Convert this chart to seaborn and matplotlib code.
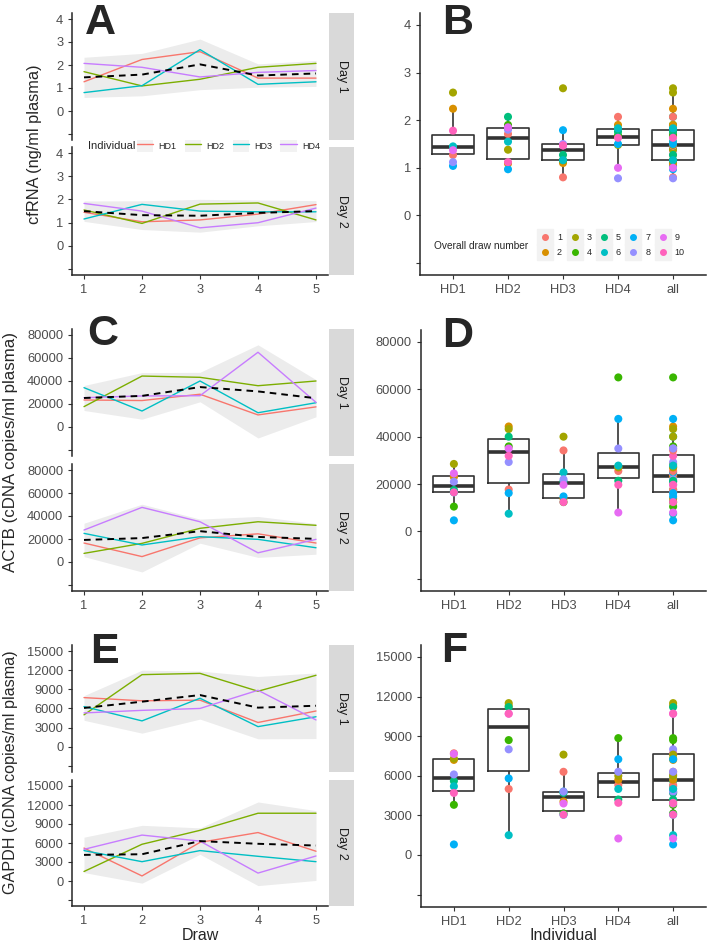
import numpy as np
import pandas as pd
import seaborn as sns
import matplotlib.pyplot as plt
from matplotlib.lines import Line2D
from matplotlib.patches import Patch

# values; index = overall draw 1-10 (1-5 day 1, 6-10 day 2)
draws = [1, 2, 3, 4, 5]
days = ['Day 1', 'Day 2']
individuals = ['HD1', 'HD2', 'HD3', 'HD4']
box_order = ['HD1', 'HD2', 'HD3', 'HD4', 'all']
draw_labels = [str(i) for i in range(1, 11)]

cfrna_hd1 = [1.27, 2.24, 2.58, 1.43, 1.43, 1.45, 1.04, 1.12, 1.37, 1.78]
cfrna_hd2 = [1.71, 1.09, 1.38, 1.90, 2.07, 1.55, 0.97, 1.80, 1.85, 1.12]
cfrna_hd3 = [0.80, 1.10, 2.67, 1.16, 1.27, 1.16, 1.79, 1.50, 1.47, 1.47]
cfrna_hd4 = [2.07, 1.90, 1.48, 1.68, 1.76, 1.83, 1.50, 0.78, 1.00, 1.63]

actb_hd1 = [23500, 23000, 28500, 10500, 17500, 16500, 4700, 21000, 24500, 16500]
actb_hd2 = [17700, 44300, 43200, 35900, 40000, 7500, 16200, 29300, 35000, 31900]
actb_hd3 = [34200, 13900, 40000, 12400, 21100, 24900, 14800, 22000, 19700, 12400]
actb_hd4 = [25500, 27000, 27200, 65000, 21400, 27800, 47500, 35000, 8000, 19700]

gapdh_hd1 = [7700, 7200, 7300, 3800, 5600, 5200, 800, 6100, 7650, 4700]
gapdh_hd2 = [5000, 11300, 11500, 8700, 11200, 1500, 5800, 8000, 10700, 10700]
gapdh_hd3 = [6300, 4050, 7600, 3150, 4700, 4800, 3050, 4800, 3900, 3050]
gapdh_hd4 = [5300, 5700, 6000, 8850, 4200, 5000, 7250, 6300, 1250, 3950]

ind_colors = ['#F8766D', '#7CAE00', '#00BFC4', '#C77CFF']
draw_colors = ['#F8766D', '#D89000', '#A3A500', '#39B600', '#00BF7D',
               '#00BFC4', '#00B0F6', '#9590FF', '#E76BF3', '#FF62BC']

T_CRIT = 3.182  # t(0.975, df=3) -> mean_cl_normal over 4 individuals


def cl_normal(v):
    half = T_CRIT * v.std() / np.sqrt(len(v))
    return v.mean() - half, v.mean() + half


def make_df(series):
    rows = []
    for ind, vals in zip(individuals, series):
        for i, v in enumerate(vals):
            rows.append({'Individual': ind, 'Day': days[i // 5], 'Draw': draws[i % 5],
                         'Overall': draw_labels[i], 'value': v})
    return pd.DataFrame(rows)


sns.set_style('ticks')
plt.rcParams['font.family'] = ['Liberation Sans', 'DejaVu Sans']
plt.rcParams['axes.linewidth'] = 1.1
plt.rcParams['xtick.color'] = '#333333'
plt.rcParams['ytick.color'] = '#333333'
plt.rcParams['xtick.labelcolor'] = '#4D4D4D'
plt.rcParams['ytick.labelcolor'] = '#4D4D4D'
plt.rcParams['xtick.labelsize'] = 9.3
plt.rcParams['ytick.labelsize'] = 9.3
plt.rcParams['xtick.major.size'] = 3
plt.rcParams['ytick.major.size'] = 3

W, H = 708, 944
fig = plt.figure(figsize=(W / 100, H / 100), dpi=100)


def rect(l, t, r, b):
    return [l / W, 1 - b / H, (r - l) / W, (b - t) / H]


def fmt_ticks(ticks):
    return [''] + [f'{t:g}' if abs(t) < 10 else f'{int(t)}' for t in ticks[1:]]


def line_panel(df, boxes, strips, yticks, ylim):
    for i, (box, srect, day) in enumerate(zip(boxes, strips, days)):
        ax = fig.add_axes(rect(*box))
        sub = df[df['Day'] == day]
        sns.lineplot(data=sub, x='Draw', y='value', estimator='mean', errorbar=cl_normal,
                     color='black', linestyle=(0, (3.4, 2.6)), linewidth=1.4,
                     err_kws={'alpha': 0.075, 'linewidth': 0, 'zorder': 0.5},
                     ax=ax, zorder=3)
        sns.lineplot(data=sub, x='Draw', y='value', hue='Individual', hue_order=individuals,
                     palette=ind_colors, errorbar=None, linewidth=1.0, legend=False,
                     ax=ax, zorder=2)
        ax.set_xlim(0.8, 5.2)
        ax.set_ylim(*ylim)
        ax.set_yticks(yticks)
        ax.set_yticklabels(fmt_ticks(yticks))
        ax.set_xticks(draws)
        ax.set_xlabel('')
        ax.set_ylabel('')
        sns.despine(ax=ax)
        if i == 0:
            ax.spines['bottom'].set_visible(False)
            ax.tick_params(axis='x', bottom=False, labelbottom=False)
        sax = fig.add_axes(rect(*srect))
        sax.set_facecolor('#D9D9D9')
        sax.set_xticks([])
        sax.set_yticks([])
        for s in sax.spines.values():
            s.set_visible(False)
        sax.text(0.5, 0.5, day, rotation=270, ha='center', va='center',
                 fontsize=9, color='#1A1A1A', transform=sax.transAxes)


def box_panel(df, box, yticks, ylim):
    ax = fig.add_axes(rect(*box))
    both = pd.concat([df, df.assign(Individual='all')], ignore_index=True)
    sns.boxplot(data=both, x='Individual', y='value', order=box_order, fill=False,
                color='#333333', width=0.75, linewidth=1.2, showfliers=False,
                medianprops={'linewidth': 2.6}, capprops={'visible': False}, ax=ax)
    sns.stripplot(data=both, x='Individual', y='value', order=box_order, hue='Overall',
                  hue_order=draw_labels, palette=draw_colors, jitter=False, size=5.8,
                  legend=False, ax=ax, zorder=3)
    ax.set_xlim(-0.6, 4.6)
    ax.set_ylim(*ylim)
    ax.set_yticks(yticks)
    ax.set_yticklabels(fmt_ticks(yticks))
    ax.set_xlabel('')
    ax.set_ylabel('')
    sns.despine(ax=ax)
    return ax


cfrna = make_df([cfrna_hd1, cfrna_hd2, cfrna_hd3, cfrna_hd4])
actb = make_df([actb_hd1, actb_hd2, actb_hd3, actb_hd4])
gapdh = make_df([gapdh_hd1, gapdh_hd2, gapdh_hd3, gapdh_hd4])

cf_ticks = [-1, 0, 1, 2, 3, 4]
actb_ticks = [-20000, 0, 20000, 40000, 60000, 80000]
gapdh_ticks = [-3000, 0, 3000, 6000, 9000, 12000, 15000]

line_panel(cfrna, [(72.4, 13.25, 327.6, 139.75), (72.4, 147.2, 327.6, 275)],
           [(329, 13.25, 354, 139.75), (329, 147.2, 354, 275)], cf_ticks, (-1.25, 4.25))
box_panel(cfrna, (420, 13, 706, 275), cf_ticks, (-1.25, 4.25))

line_panel(actb, [(72.4, 329.25, 327.6, 455.75), (72.4, 464.25, 327.6, 590.75)],
           [(329, 329.25, 354, 455.75), (329, 464.25, 354, 590.75)], actb_ticks, (-25000, 85000))
box_panel(actb, (421, 330, 706, 590.75), actb_ticks, (-25000, 85000))

line_panel(gapdh, [(72.4, 645.3, 327.6, 771.6), (72.4, 780.3, 327.6, 905.7)],
           [(329, 645.3, 354, 771.6), (329, 780.3, 354, 905.7)], gapdh_ticks, (-3900, 15900))
box_panel(gapdh, (421, 645, 706, 906.5), gapdh_ticks, (-3900, 15900))

# axis titles
fig.text(35 / W, 1 - 144 / H, 'cfRNA (ng/ml plasma)', rotation=90, ha='center', va='center', fontsize=11.8)
fig.text(11 / W, 1 - 452 / H, 'ACTB (cDNA copies/ml plasma)', rotation=90, ha='center', va='center', fontsize=12.2)
fig.text(11 / W, 1 - 772 / H, 'GAPDH (cDNA copies/ml plasma)', rotation=90, ha='center', va='center', fontsize=11.6)
fig.text(200 / W, 1 - 936 / H, 'Draw', ha='center', va='center', fontsize=11.5)
fig.text(563 / W, 1 - 935 / H, 'Individual', ha='center', va='center', fontsize=11.5)

# panel letters
for letter, x, y in [('A', 85, 34), ('B', 442, 34), ('C', 87, 345),
                     ('D', 442, 347), ('E', 90, 663), ('F', 441, 662)]:
    fig.text(x / W, 1 - y / H, letter, fontsize=31, fontweight='bold', ha='left', va='baseline')

# legend for individuals (between the day facets of A)
ind_handles = [(Patch(facecolor='#F2F2F2', edgecolor='none'), Line2D([], [], color=c, lw=1.0))
               for c in ind_colors]
fig.text(88 / W, 1 - 146 / H, 'Individual', ha='left', va='center', fontsize=8)
fig.legend(ind_handles, individuals, loc='center left', bbox_to_anchor=(137 / W, 1 - 146 / H),
           ncol=4, frameon=False, fontsize=6.5, handlelength=1.8, handleheight=1.8,
           handletextpad=0.6, columnspacing=0.9, borderpad=0, borderaxespad=0)

# legend for overall draw number (inside B)
draw_handles = [(Line2D([], [], marker='s', ms=11, color='#F2F2F2', ls=''),
                 Line2D([], [], marker='o', ms=4, color=c, ls='')) for c in draw_colors]
fig.text(434 / W, 1 - 246 / H, 'Overall draw number', ha='left', va='center', fontsize=7.3)
fig.legend(draw_handles, draw_labels, loc='center left', bbox_to_anchor=(538 / W, 1 - 245 / H),
           ncol=5, frameon=False, fontsize=6.5, handlelength=1.6, handletextpad=0.5,
           columnspacing=0.6, labelspacing=0.6, borderpad=0, borderaxespad=0)

fig.savefig('out.png', dpi=100, facecolor='white')
